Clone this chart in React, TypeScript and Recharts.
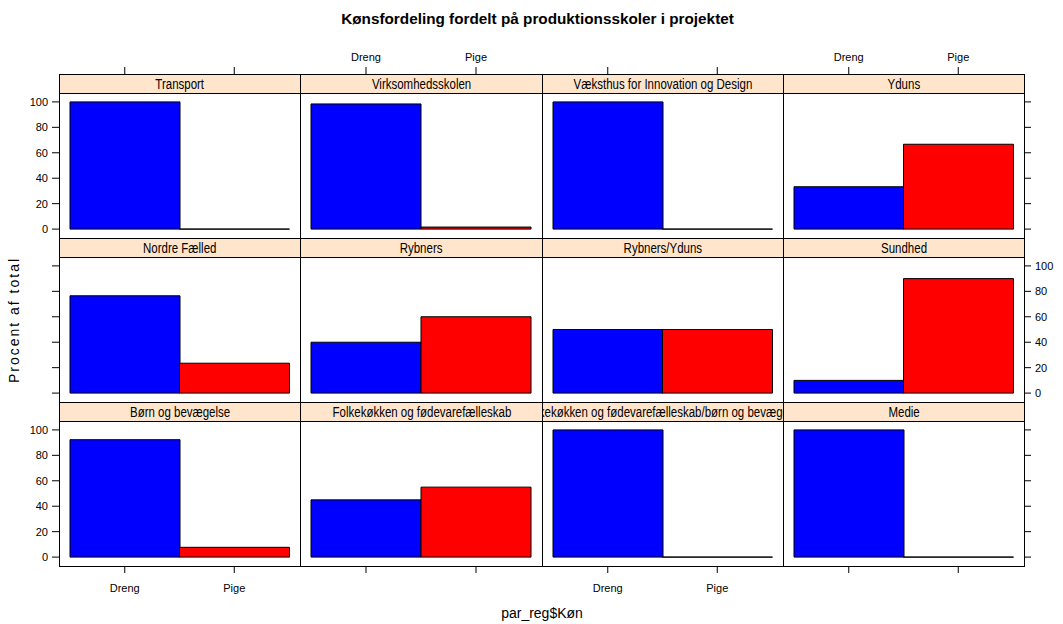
import React from "react";
import { BarChart, Bar, XAxis, YAxis } from "recharts";

// one panel per school, values are percent of total per gender
const schools = [
  "Transport",
  "Virksomhedsskolen",
  "Væksthus for Innovation og Design",
  "Yduns",
  "Nordre Fælled",
  "Rybners",
  "Rybners/Yduns",
  "Sundhed",
  "Børn og bevægelse",
  "Folkekøkken og fødevarefælleskab",
  "Folkekøkken og fødevarefælleskab/børn og bevægelse",
  "Medie",
];
const genders = ["Dreng", "Pige"];
const drengPct = [100, 98.4, 100, 33.3, 76.5, 40, 50, 10, 92.3, 45, 100, 100];
const pigePct = [0, 1.6, 0, 66.7, 23.5, 60, 50, 90, 7.7, 55, 0, 0];
const yTicks = [0, 20, 40, 60, 80, 100];

const BLUE = "#0000ff";
const RED = "#ff0000";
const STRIP_BG = "#ffe5cc";
const FONT = "'Liberation Sans', Arial, sans-serif";

const colLeft = (c: number) => Math.round(59 + c * 241.25);
const rowTop = [74, 238, 402];
const STRIP_H = 19;
const PANEL_H = 145;

function BoxBar(props: any) {
  const { x, y, width, height, payload } = props;
  const fill = payload.kon === genders[0] ? BLUE : RED;
  return (
    <path
      d={`M${x},${y}h${width}v${height}h${-width}Z`}
      fill={fill}
      stroke="#000"
      strokeWidth={1}
    />
  );
}

const tickText = { fontFamily: FONT, fontSize: 11, fill: "#000" };

function Panel({ i }: { i: number }) {
  const r = Math.floor(i / 4);
  const c = i % 4;
  const w = colLeft(c + 1) - colLeft(c);
  const ml = c === 0 ? 50 : 0;
  const mr = c === 3 ? 45 : 0;
  const mt = r === 0 ? 50 : 0;
  const mb = r === 2 ? 40 : 0;
  const panelTop = rowTop[r] + STRIP_H;

  const data = genders.map((g, k) => ({
    kon: g,
    pct: k === 0 ? drengPct[i] : pigePct[i],
  }));

  const showLeftLabels = r !== 1;
  const showRightLabels = r === 1;
  const showTopLabels = c === 1 || c === 3;
  const showBottomLabels = c === 0 || c === 2;

  const yTick = (show: boolean) => (p: any) =>
    show ? (
      <text x={p.x} y={p.y} dy="0.35em" textAnchor={p.textAnchor} {...tickText}>
        {p.payload.value}
      </text>
    ) : (
      <g />
    );

  const topTick = (p: any) => {
    const base = mt - STRIP_H;
    return (
      <g>
        <line x1={p.x} x2={p.x} y1={base} y2={base - 7} stroke="#000" />
        {showTopLabels && (
          <text x={p.x} y={base - 17} dy="0.35em" textAnchor="middle" {...tickText}>
            {p.payload.value}
          </text>
        )}
      </g>
    );
  };

  const bottomTick = (p: any) =>
    showBottomLabels ? (
      <text x={p.x} y={p.y} dy="0.71em" textAnchor="middle" {...tickText}>
        {p.payload.value}
      </text>
    ) : (
      <g />
    );

  return (
    <div style={{ position: "absolute", left: colLeft(c) - ml, top: panelTop - mt }}>
      <BarChart
        width={ml + w + mr}
        height={mt + PANEL_H + mb}
        data={data}
        margin={{ top: 0, right: 0, bottom: 0, left: 0 }}
        barCategoryGap={0}
      >
        {r === 0 && (
          <XAxis
            dataKey="kon"
            orientation="top"
            height={mt}
            padding={{ left: 11, right: 11 }}
            axisLine={false}
            tickLine={false}
            tick={topTick}
            interval={0}
          />
        )}
        {r === 2 && (
          <XAxis
            dataKey="kon"
            orientation="bottom"
            height={mb}
            padding={{ left: 11, right: 11 }}
            axisLine={false}
            tickSize={7}
            tickMargin={11}
            tickLine={{ stroke: "#000" }}
            tick={bottomTick}
            interval={0}
          />
        )}
        {r === 1 && (
          <XAxis dataKey="kon" hide padding={{ left: 11, right: 11 }} />
        )}
        {c === 0 && (
          <YAxis
            orientation="left"
            width={ml}
            domain={[-7, 107]}
            ticks={yTicks}
            allowDataOverflow
            axisLine={false}
            tickSize={7}
            tickMargin={4}
            tickLine={{ stroke: "#000" }}
            tick={yTick(showLeftLabels)}
            interval={0}
          />
        )}
        {c === 3 && (
          <YAxis
            orientation="right"
            width={mr}
            domain={[-7, 107]}
            ticks={yTicks}
            allowDataOverflow
            axisLine={false}
            tickSize={7}
            tickMargin={4}
            tickLine={{ stroke: "#000" }}
            tick={yTick(showRightLabels)}
            interval={0}
          />
        )}
        {c !== 0 && c !== 3 && (
          <YAxis hide domain={[-7, 107]} ticks={yTicks} allowDataOverflow />
        )}
        <Bar dataKey="pct" isAnimationActive={false} shape={BoxBar} />
      </BarChart>
    </div>
  );
}

function Frame({ i }: { i: number }) {
  const r = Math.floor(i / 4);
  const c = i % 4;
  const left = colLeft(c);
  const w = colLeft(c + 1) - left;
  return (
    <div
      style={{
        position: "absolute",
        left,
        top: rowTop[r],
        width: w + 1,
        height: STRIP_H + PANEL_H + 1,
        boxSizing: "border-box",
        border: "1px solid #000",
        background: "#fff",
      }}
    >
      <div
        style={{
          height: STRIP_H - 1,
          background: STRIP_BG,
          borderBottom: "1px solid #000",
          display: "flex",
          justifyContent: "center",
          alignItems: "center",
          overflow: "hidden",
          whiteSpace: "nowrap",
          fontFamily: FONT,
          fontSize: 14,
          color: "#000",
        }}
      >
        <span style={{ flexShrink: 0, transform: "scaleX(0.82)" }}>{schools[i]}</span>
      </div>
    </div>
  );
}

export default function App() {
  return (
    <div
      style={{
        position: "absolute",
        left: 0,
        top: 0,
        width: 1063,
        height: 624,
        background: "#fff",
        overflow: "hidden",
        fontFamily: FONT,
      }}
    >
      <div
        style={{
          position: "absolute",
          left: 0,
          width: 1075,
          top: 10,
          textAlign: "center",
          fontWeight: "bold",
          fontSize: 15.3,
          color: "#000",
        }}
      >
        Kønsfordeling fordelt på produktionsskoler i projektet
      </div>
      {schools.map((_, i) => (
        <Frame key={"f" + i} i={i} />
      ))}
      {schools.map((_, i) => (
        <Panel key={"p" + i} i={i} />
      ))}
      <div
        style={{
          position: "absolute",
          left: 14,
          top: 320,
          transform: "translate(-50%, -50%) rotate(-90deg)",
          whiteSpace: "nowrap",
          fontSize: 14,
          letterSpacing: 2,
          color: "#000",
        }}
      >
        Procent af total
      </div>
      <div
        style={{
          position: "absolute",
          left: 442,
          width: 200,
          top: 605,
          textAlign: "center",
          fontSize: 14,
          color: "#000",
        }}
      >
        par_reg$Køn
      </div>
    </div>
  );
}
